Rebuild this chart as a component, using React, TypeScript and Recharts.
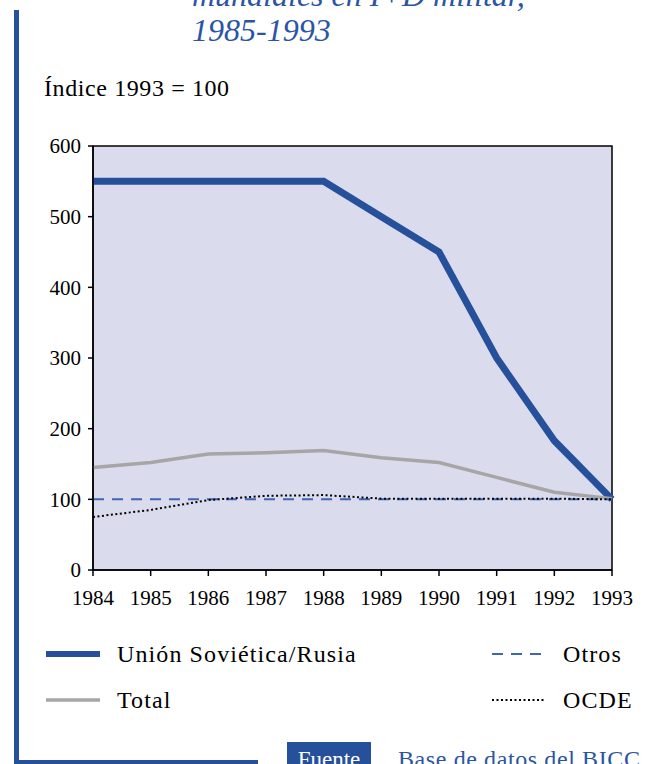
import React from "react";
import { LineChart, Line, XAxis, YAxis, ReferenceArea } from "recharts";

const years = [1984, 1985, 1986, 1987, 1988, 1989, 1990, 1991, 1992, 1993];
const ussr = [550, 550, 550, 550, 550, 500, 450, 300, 183, 100];
const total = [145, 152, 164, 166, 169, 159, 152, 131, 110, 101];
const otros = [100, 100, 100, 100, 100, 100, 100, 100, 100, 100];
const ocde = [75, 85, 99, 105, 106, 101, 101, 101, 101, 100];
const yTicks = [0, 100, 200, 300, 400, 500, 600];

const BLUE = "#27509b";
const FONT = "'Liberation Serif', 'DejaVu Serif', serif";

const data = years.map((y, i) => ({
  year: y,
  ussr: ussr[i],
  total: total[i],
  otros: otros[i],
  ocde: ocde[i],
}));

const series = [
  { key: "ussr", name: "Unión Soviética/Rusia", color: BLUE, width: 7, dash: undefined as string | undefined },
  { key: "total", name: "Total", color: "#a6a6a6", width: 3.5, dash: undefined as string | undefined },
  { key: "otros", name: "Otros", color: "#3d66b3", width: 2, dash: "11 8" },
  { key: "ocde", name: "OCDE", color: "#000000", width: 2, dash: "2 2.5" },
];

const legendPos = [
  { x: 46, y: 654 },
  { x: 46, y: 700 },
  { x: 492, y: 654 },
  { x: 492, y: 700 },
];

export default function App() {
  return (
    <div
      style={{
        position: "fixed",
        left: 0,
        top: 0,
        width: 645,
        height: 764,
        overflow: "hidden",
        background: "#ffffff",
        fontFamily: FONT,
      }}
    >
      <div style={{ position: "absolute", left: 0, top: 0 }}>
        <LineChart
          width={645}
          height={640}
          data={data}
          margin={{ top: 146, right: 33, left: 33, bottom: 40 }}
        >
          <ReferenceArea
            x1={1984}
            x2={1993}
            y1={0}
            y2={600}
            fill="#dbdbee"
            fillOpacity={1}
            stroke="#000"
            strokeWidth={1.5}
          />
          <XAxis
            dataKey="year"
            type="number"
            domain={[1984, 1993]}
            ticks={years}
            interval={0}
            height={30}
            tickSize={6}
            tickMargin={14}
            axisLine={{ stroke: "#000", strokeWidth: 1.5 }}
            tickLine={{ stroke: "#000", strokeWidth: 1.5 }}
            tick={{ fill: "#000", fontSize: 21, fontFamily: FONT }}
          />
          <YAxis
            type="number"
            domain={[0, 600]}
            ticks={yTicks}
            interval={0}
            width={60}
            tickSize={5}
            tickMargin={7}
            axisLine={{ stroke: "#000", strokeWidth: 1.5 }}
            tickLine={{ stroke: "#000", strokeWidth: 1.5 }}
            tick={{ fill: "#000", fontSize: 21, fontFamily: FONT }}
          />
          {series.map((s) => (
            <Line
              key={s.key}
              dataKey={s.key}
              name={s.name}
              type="linear"
              stroke={s.color}
              strokeWidth={s.width}
              strokeDasharray={s.dash}
              strokeLinejoin="miter"
              strokeLinecap="butt"
              dot={false}
              activeDot={false}
              isAnimationActive={false}
            />
          ))}
        </LineChart>
      </div>
      <svg
        width={645}
        height={764}
        style={{ position: "absolute", left: 0, top: 0, pointerEvents: "none" }}
      >
        <rect x={14} y={10} width={5} height={760} fill={BLUE} />
        <rect x={14} y={760} width={244} height={6} fill={BLUE} />
        <text x={192} y={6} fill="#2b55a3" fontSize={32} fontStyle="italic" fontFamily={FONT}>
          mundiales en I+D militar,
        </text>
        <text x={192} y={41} fill="#2b55a3" fontSize={32} fontStyle="italic" fontFamily={FONT}>
          1985-1993
        </text>
        <text x={44} y={96} fill="#000" fontSize={24} letterSpacing={0.6} fontFamily={FONT}>
          Índice 1993 = 100
        </text>
        {series.map((s, i) => (
          <g key={s.key}>
            <line
              x1={legendPos[i].x}
              x2={legendPos[i].x + 54}
              y1={legendPos[i].y}
              y2={legendPos[i].y}
              stroke={s.color}
              strokeWidth={s.width === 7 ? 6 : s.width}
              strokeDasharray={s.dash}
            />
            <text
              x={legendPos[i].x + 71}
              y={legendPos[i].y + 8}
              fill="#000"
              fontSize={24}
              letterSpacing={1.1}
              fontFamily={FONT}
            >
              {s.name}
            </text>
          </g>
        ))}
        <rect x={287} y={742} width={84} height={30} fill={BLUE} />
        <text x={329} y={767} fill="#fff" fontSize={23} textAnchor="middle" fontFamily={FONT}>
          Fuente
        </text>
        <text x={398} y={767} fill="#2b55a3" fontSize={24} letterSpacing={0.6} fontFamily={FONT}>
          Base de datos del BICC.
        </text>
      </svg>
    </div>
  );
}
